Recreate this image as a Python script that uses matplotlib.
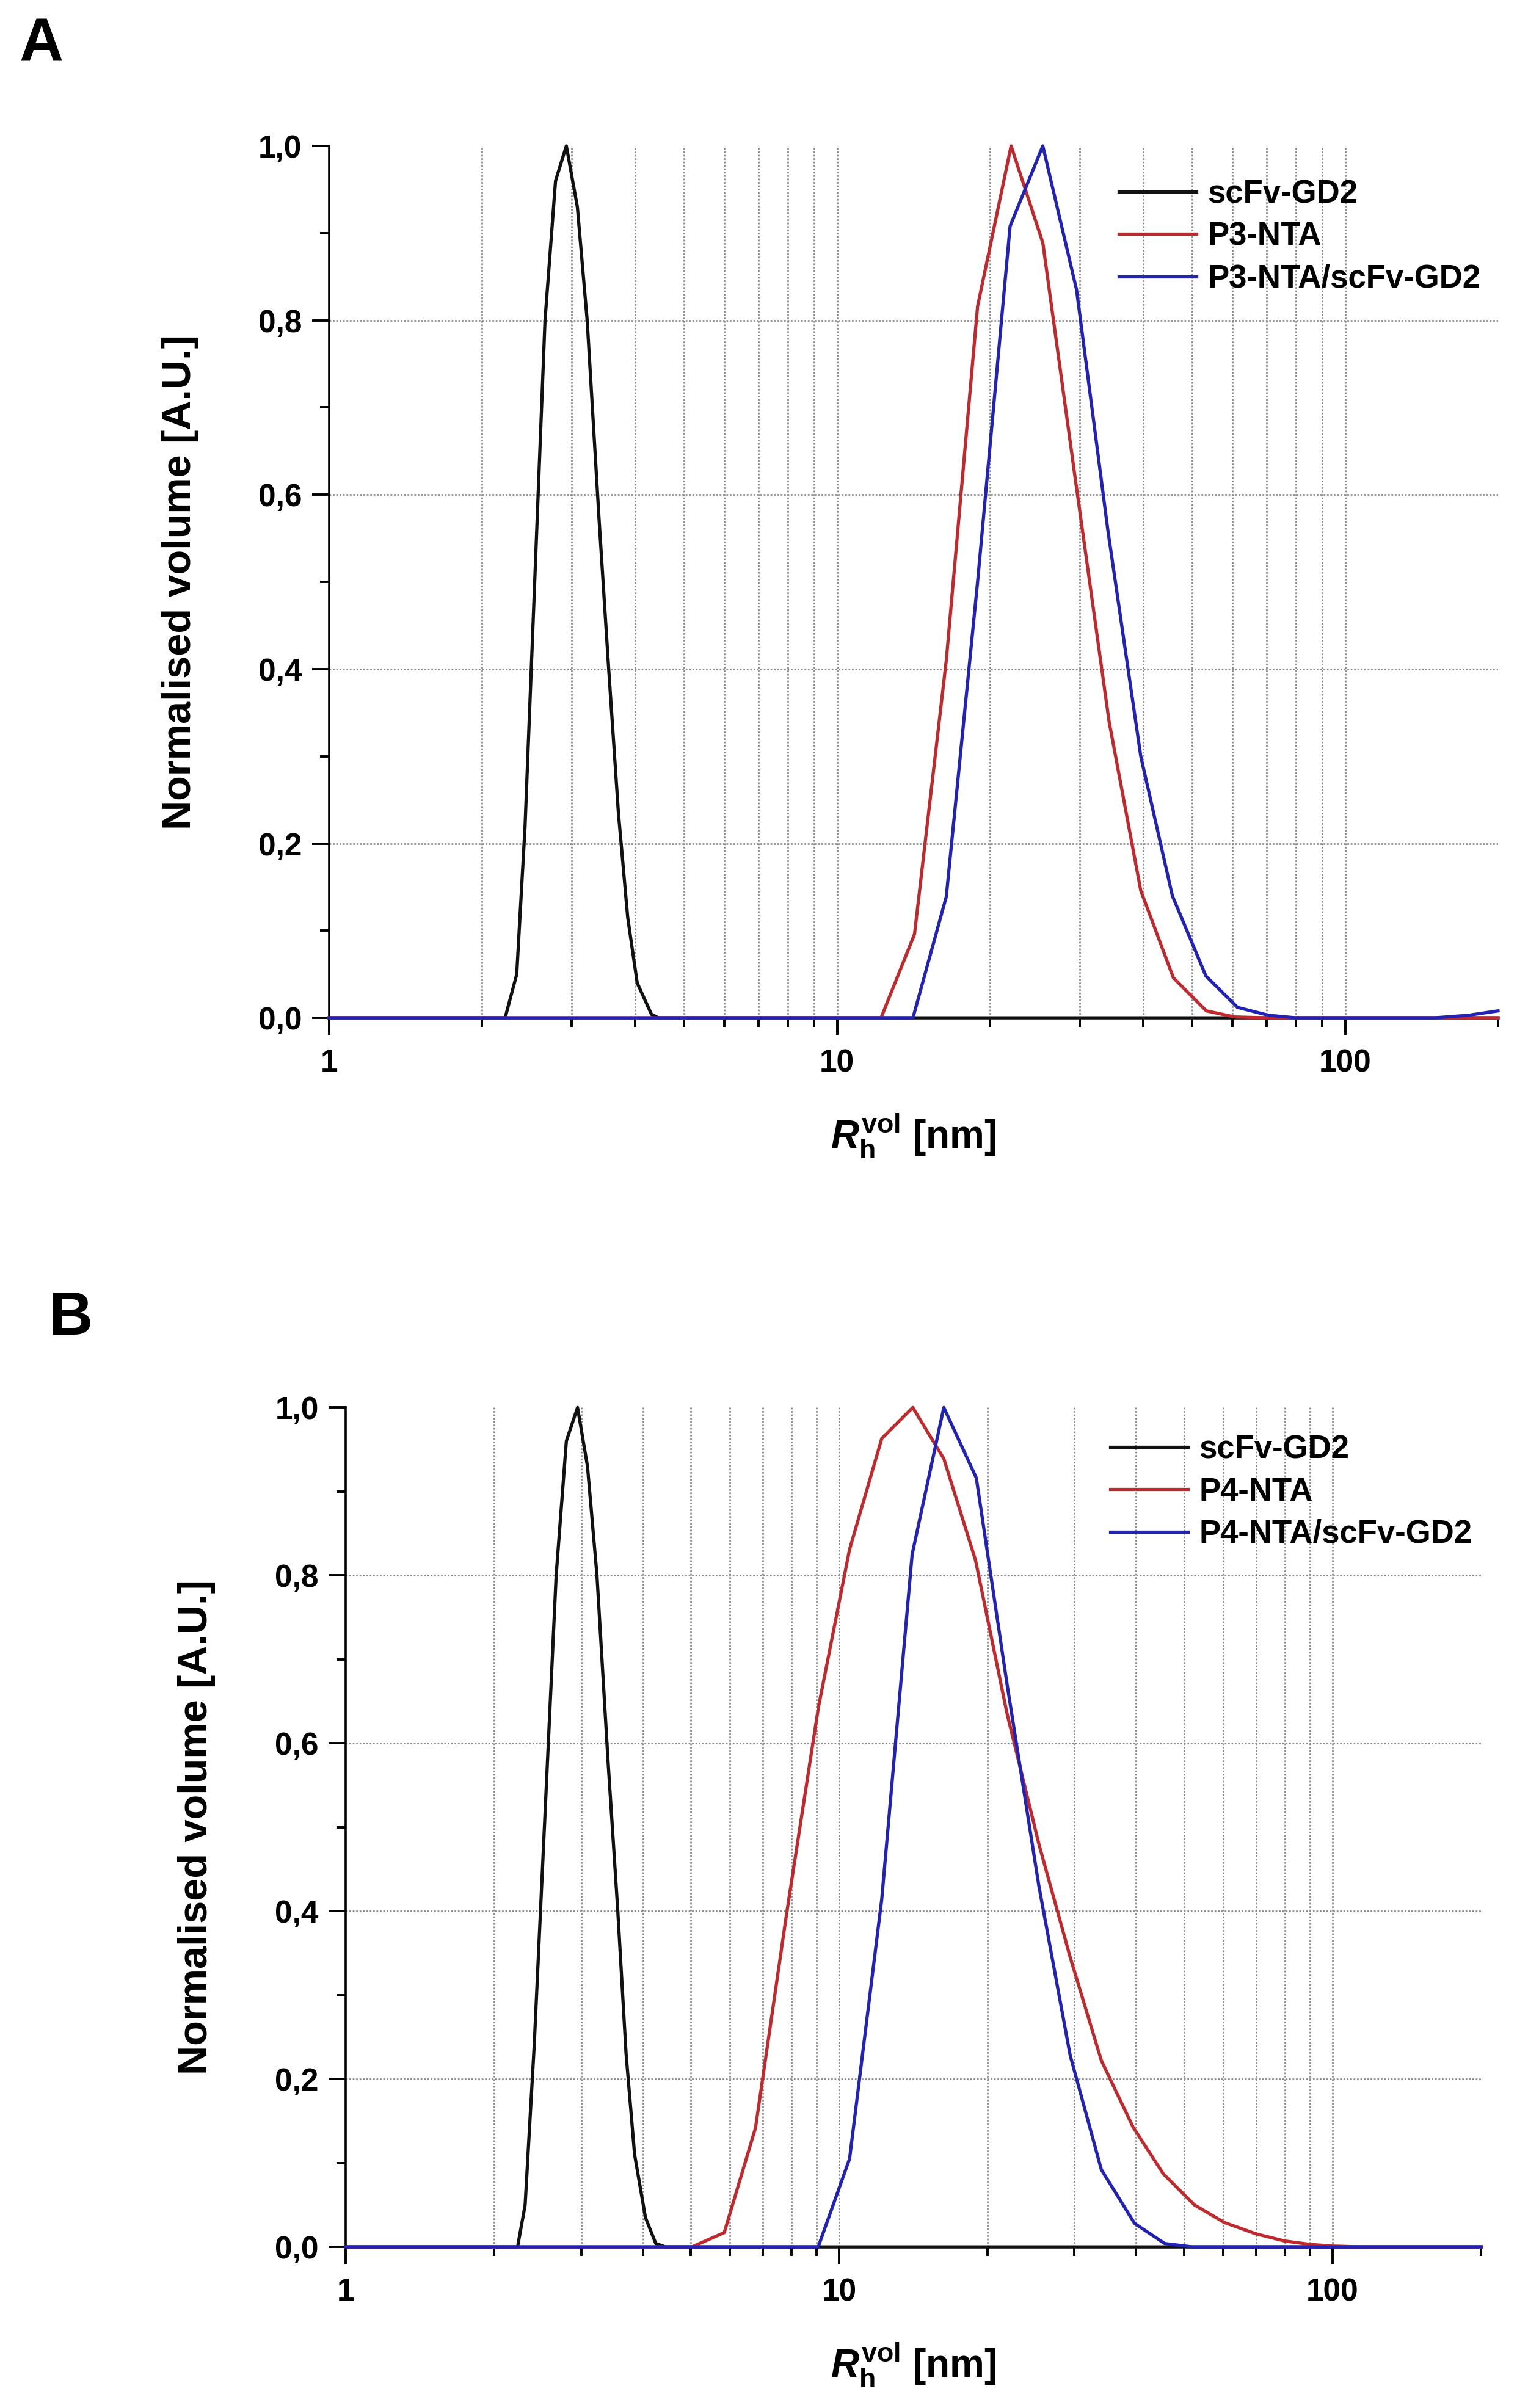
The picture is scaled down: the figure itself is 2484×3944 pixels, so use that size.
import numpy as np
import matplotlib
matplotlib.use('Agg')
import matplotlib.pyplot as plt
from matplotlib.ticker import FixedLocator, FuncFormatter, NullFormatter

plt.rcParams['font.family'] = ['Liberation Sans', 'DejaVu Sans']
plt.rcParams['font.weight'] = 'bold'
plt.rcParams['mathtext.fontset'] = 'custom'
plt.rcParams['mathtext.rm'] = 'Liberation Sans:bold'
plt.rcParams['mathtext.it'] = 'Liberation Sans:italic:bold'
plt.rcParams['mathtext.bf'] = 'Liberation Sans:bold'

# ---- panel A data (R_h in nm, normalised volume) ----
a_scfv_x = [1.0, 2.22, 2.34, 2.43, 2.66, 2.79, 2.93, 3.08, 3.22, 3.40, 3.55, 3.71, 3.87, 4.04, 4.31, 4.45, 200]
a_scfv_y = [0.0, 0.0, 0.05, 0.22, 0.80, 0.96, 1.0, 0.93, 0.80, 0.57, 0.40, 0.235, 0.115, 0.04, 0.004, 0.0, 0.0]

a_p3_x = [1.0, 12.2, 14.2, 16.4, 18.9, 22.0, 25.4, 29.4, 34.3, 39.6, 45.9, 53.3, 60.7, 70, 200]
a_p3_y = [0.0, 0.0, 0.096, 0.41, 0.816, 1.0, 0.889, 0.62, 0.34, 0.146, 0.046, 0.008, 0.001, 0.0, 0.0]

a_mix_x = [1.0, 14.1, 16.4, 18.9, 21.9, 25.4, 29.6, 34.1, 39.6, 45.7, 53.2, 61.4, 70.6, 80, 150, 175, 200]
a_mix_y = [0.0, 0.0, 0.139, 0.50, 0.908, 1.0, 0.835, 0.56, 0.30, 0.14, 0.048, 0.012, 0.003, 0.0, 0.0, 0.003, 0.008]

# ---- panel B data ----
b_scfv_x = [1.0, 2.23, 2.31, 2.41, 2.67, 2.80, 2.95, 3.09, 3.23, 3.40, 3.56, 3.70, 3.85, 4.05, 4.25, 4.45, 200]
b_scfv_y = [0.0, 0.0, 0.05, 0.24, 0.80, 0.96, 1.0, 0.93, 0.80, 0.58, 0.40, 0.23, 0.11, 0.035, 0.004, 0.0, 0.0]

b_p4_x = [1.0, 5.03, 5.85, 6.77, 7.84, 9.08, 10.5, 12.2, 14.1, 16.3, 18.9, 21.9, 25.4, 29.4, 34.0,
          39.4, 45.4, 52.5, 60.4, 70, 80, 90, 100, 115, 200]
b_p4_y = [0.0, 0.0, 0.017, 0.142, 0.40, 0.643, 0.831, 0.963, 1.0, 0.939, 0.818, 0.635, 0.48, 0.345, 0.222,
          0.143, 0.087, 0.050, 0.029, 0.0155, 0.007, 0.003, 0.001, 0.0, 0.0]

b_mix_x = [1.0, 9.07, 10.5, 12.2, 14.06, 16.3, 18.97, 21.9, 25.4, 29.4, 34.0, 39.7, 45.7, 52.0, 200]
b_mix_y = [0.0, 0.0, 0.105, 0.414, 0.825, 1.0, 0.916, 0.67, 0.43, 0.228, 0.092, 0.028, 0.004, 0.0, 0.0]

black = '#111111'
red = '#bf2a2e'
blue = '#2222b4'
LW = 3.8

fig = plt.figure(figsize=(24.84, 39.44), dpi=100)


def style_axes(ax):
    ax.set_xscale('log')
    ax.set_xlim(1, 200)
    ax.set_ylim(0, 1.0)
    for s in ['top', 'right']:
        ax.spines[s].set_visible(False)
    for s in ['left', 'bottom']:
        ax.spines[s].set_linewidth(2.6)
    ax.xaxis.set_major_locator(FixedLocator([1, 10, 100]))
    ax.xaxis.set_major_formatter(FuncFormatter(lambda v, p: '%d' % v))
    minors = [2, 3, 4, 5, 6, 7, 8, 9, 20, 30, 40, 50, 60, 70, 80, 90, 200]
    ax.xaxis.set_minor_locator(FixedLocator(minors))
    ax.xaxis.set_minor_formatter(NullFormatter())
    ax.yaxis.set_major_locator(FixedLocator([0, 0.2, 0.4, 0.6, 0.8, 1.0]))
    ax.yaxis.set_major_formatter(FuncFormatter(lambda v, p: ('%.1f' % v).replace('.', ',')))
    ax.yaxis.set_minor_locator(FixedLocator([0.1, 0.3, 0.5, 0.7, 0.9]))
    ax.tick_params(which='major', direction='out', length=20, width=2.8, labelsize=37, pad=12)
    ax.tick_params(which='minor', direction='out', length=11, width=2.8)
    ax.tick_params(axis='x', which='major', pad=16)
    # dotted grid
    for v in [2, 3, 4, 5, 6, 7, 8, 9, 10, 20, 30, 40, 50, 60, 70, 80, 90, 100]:
        ax.axvline(v, color='#8c8c8c', lw=2.0, ls=(0, (1, 1)), zorder=0)
    for v in [0.2, 0.4, 0.6, 0.8]:
        ax.axhline(v, color='#8c8c8c', lw=2.0, ls=(0, (1, 1)), zorder=0)
    ax.set_ylabel('Normalised volume [A.U.]', fontsize=48, fontweight='bold', labelpad=70)
    ax.set_xlabel(r'$\mathit{R}_{\mathrm{h}}^{\mathrm{vol}}$ [nm]', fontsize=46, fontweight='bold', labelpad=40)


# panel A
axA = fig.add_axes([0.2170, 0.5773, 0.7705, 0.3621])
style_axes(axA)
axA.plot(a_scfv_x, a_scfv_y, color=black, lw=LW, label='scFv-GD2', clip_on=False, zorder=3)
axA.plot(a_p3_x, a_p3_y, color=red, lw=LW, label='P3-NTA', clip_on=False, zorder=4)
axA.plot(a_mix_x, a_mix_y, color=blue, lw=LW, label='P3-NTA/scFv-GD2', clip_on=False, zorder=5)
axA.legend(loc='upper left', bbox_to_anchor=(0.7375, 0.9257), bbox_transform=fig.transFigure,
           frameon=False, borderpad=0, borderaxespad=0, handlelength=2.4, handletextpad=0.35,
           labelspacing=0.37, prop={'size': 38, 'weight': 'bold'})
fig.text(32 / 2484, 1 - 100 / 3944, 'A', fontsize=72, fontweight='bold', va='baseline', ha='left')

# panel B
axB = fig.add_axes([0.2279, 0.0669, 0.7484, 0.3486])
style_axes(axB)
axB.plot(b_scfv_x, b_scfv_y, color=black, lw=LW, label='scFv-GD2', clip_on=False, zorder=3)
axB.plot(b_p4_x, b_p4_y, color=red, lw=LW, label='P4-NTA', clip_on=False, zorder=4)
axB.plot(b_mix_x, b_mix_y, color=blue, lw=LW, label='P4-NTA/scFv-GD2', clip_on=False, zorder=5)
axB.legend(loc='upper left', bbox_to_anchor=(0.732, 0.4044), bbox_transform=fig.transFigure,
           frameon=False, borderpad=0, borderaxespad=0, handlelength=2.4, handletextpad=0.35,
           labelspacing=0.37, prop={'size': 38, 'weight': 'bold'})
fig.text(79 / 2484, 1 - 2186 / 3944, 'B', fontsize=72, fontweight='bold', va='baseline', ha='left')

fig.savefig('out.png', dpi=100)
